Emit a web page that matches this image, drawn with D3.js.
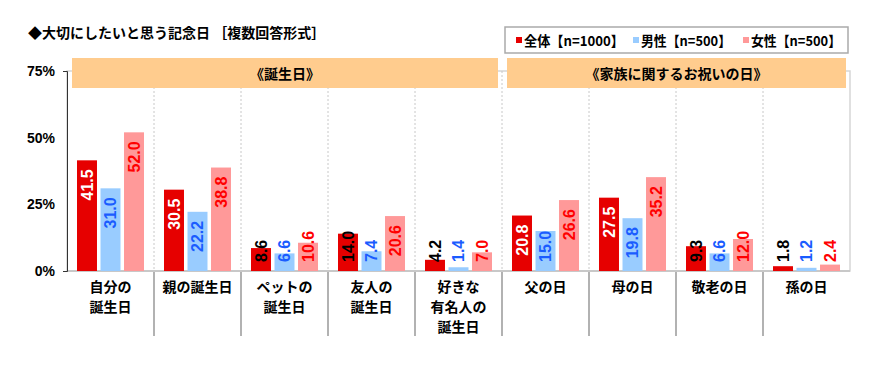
<!DOCTYPE html>
<html>
<head>
<meta charset="utf-8">
<script src="https://cdn.jsdelivr.net/npm/d3@7"></script>
<style>
  body { margin: 0; background: #fff; }
  svg text { font-family: "Liberation Sans", "Noto Sans CJK JP", sans-serif; font-weight: bold; }
  .jp { font-family: "Noto Sans CJK JP", sans-serif; }
</style>
</head>
<body>
<div class="chart"></div>
<script>
// data
const categories = ["自分の\n誕生日", "親の誕生日", "ペットの\n誕生日", "友人の\n誕生日", "好きな\n有名人の\n誕生日",
                    "父の日", "母の日", "敬老の日", "孫の日"];
const seriesNames = ["全体【n=1000】", "男性【n=500】", "女性【n=500】"];
const total  = [41.5, 30.5, 8.6, 14.0, 4.2, 20.8, 27.5, 9.3, 1.8];
const male   = [31.0, 22.2, 6.6, 7.4, 1.4, 15.0, 19.8, 6.6, 1.2];
const female = [52.0, 38.8, 10.6, 20.6, 7.0, 26.6, 35.2, 12.0, 2.4];
const groupLabels = ["《誕生日》", "《家族に関するお祝いの日》"];
const groupRanges = [[0, 4], [5, 8]];
const yTicks = [0, 25, 50, 75];

const barColors = ["#e60000", "#99ccff", "#ff9999"];
const labelColors = ["#ffffff", "#1a5cff", "#ff0000"];
const values = [total, male, female];

const svg = d3.select('div.chart').append('svg')
  .attr('width', 883)
  .attr('height', 372);

const x = d3.scaleBand().domain(d3.range(categories.length)).range([67, 850]);
const xs = d3.scaleBand().domain(d3.range(3)).range([10, 77]).paddingInner(0.15);
const y = d3.scaleLinear().domain([0, 75]).range([271, 71]);

// title
svg.append('text').attr('class', 'jp')
  .attr('x', 28).attr('y', 38)
  .attr('font-size', 14)
  .text('◆大切にしたいと思う記念日 ［複数回答形式］');

// plot frame + grid
svg.append('rect')
  .attr('x', 67).attr('y', y(75)).attr('width', 850 - 67).attr('height', y(0) - y(75))
  .attr('fill', 'none').attr('stroke', '#d6d6d6').attr('stroke-width', 1.5);

svg.append('g').selectAll('line')
  .data(d3.range(1, categories.length))
  .enter().append('line')
  .attr('x1', d => x(d)).attr('x2', d => x(d))
  .attr('y1', y(75)).attr('y2', y(0))
  .attr('stroke', '#c8c8c8').attr('stroke-dasharray', '2,2');

// category separators below axis
svg.append('g').selectAll('line')
  .data(d3.range(1, categories.length))
  .enter().append('line')
  .attr('x1', d => x(d)).attr('x2', d => x(d))
  .attr('y1', y(0)).attr('y2', 336)
  .attr('stroke', '#999').attr('stroke-width', 1.5);

// group bands
const bands = svg.append('g');
groupLabels.forEach((lab, i) => {
  const [a, b] = groupRanges[i];
  const x0 = x(a) + 5, x1 = x(b) + x.bandwidth() - 4;
  bands.append('rect')
    .attr('x', x0).attr('y', 58).attr('width', x1 - x0).attr('height', 30)
    .attr('fill', '#ffcc8e');
  bands.append('text').attr('class', 'jp')
    .attr('x', (x0 + x1) / 2).attr('y', 73)
    .attr('text-anchor', 'middle').attr('dominant-baseline', 'central')
    .attr('font-size', 14)
    .text(lab);
});

// x axis line
svg.append('line')
  .attr('x1', 67).attr('x2', 850).attr('y1', y(0)).attr('y2', y(0))
  .attr('stroke', '#c8c8c8').attr('stroke-width', 2);

// y axis
const yAxis = svg.append('g')
  .attr('transform', 'translate(67,0)')
  .call(d3.axisLeft(y).tickValues(yTicks).tickFormat(d => d + '%')
    .tickSizeInner(0).tickSizeOuter(4).tickPadding(12));
yAxis.select('.domain').attr('stroke', '#333');
yAxis.selectAll('text').attr('font-size', 14).attr('fill', '#000')
  .style('font-family', '"Liberation Sans", sans-serif');

// bars
const barG = svg.append('g');
values.forEach((vals, s) => {
  barG.selectAll('rect.s' + s)
    .data(vals)
    .enter().append('rect')
    .attr('class', 's' + s)
    .attr('x', (d, i) => x(i) + xs(s))
    .attr('y', d => y(d))
    .attr('width', xs.bandwidth())
    .attr('height', d => y(0) - y(d))
    .attr('fill', barColors[s]);
});

// value labels
const labG = svg.append('g');
values.forEach((vals, s) => {
  vals.forEach((v, i) => {
    const cx = x(i) + xs(s) + xs.bandwidth() / 2;
    const t = labG.append('text')
      .attr('font-size', 16)
      .attr('text-anchor', 'end')
      .attr('dy', '0.35em')
      .text(v.toFixed(1));
    const len = t.node().getComputedTextLength();
    const bottomLimit = y(0) - 9;
    const top = Math.min(y(v) + 9, bottomLimit - len);
    const fits = y(v) + 9 + len <= bottomLimit;
    let col = labelColors[s];
    if (s === 0 && !fits) col = '#000';
    t.attr('fill', col)
      .attr('transform', `translate(${cx},${top}) rotate(-90)`);
  });
});

// category labels
const catG = svg.append('g');
categories.forEach((c, i) => {
  const t = catG.append('text').attr('class', 'jp')
    .attr('text-anchor', 'middle')
    .attr('font-size', 14);
  c.split('\n').forEach((line, k) => {
    t.append('tspan')
      .attr('x', x(i) + x.bandwidth() / 2)
      .attr('y', 292 + k * 20)
      .text(line);
  });
});

// legend
const leg = svg.append('g');
leg.append('rect')
  .attr('x', 505).attr('y', 27).attr('width', 343).attr('height', 26)
  .attr('fill', '#fff').attr('stroke', '#aaa').attr('stroke-width', 1.5);
const legX = [516, 633, 743];
seriesNames.forEach((name, s) => {
  leg.append('rect')
    .attr('x', legX[s]).attr('y', 37).attr('width', 6).attr('height', 6)
    .attr('fill', barColors[s]);
  leg.append('text').attr('class', 'jp')
    .attr('x', legX[s] + 8).attr('y', 40)
    .attr('dominant-baseline', 'central')
    .attr('font-size', 14)
    .attr('textLength', s === 0 ? 100 : 90)
    .attr('lengthAdjust', 'spacingAndGlyphs')
    .text(name);
});
</script>
</body>
</html>
